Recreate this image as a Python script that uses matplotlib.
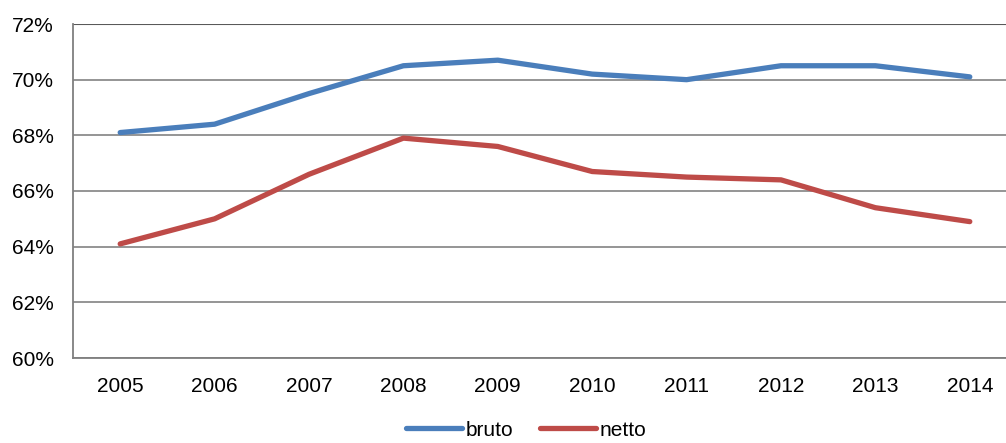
import matplotlib
matplotlib.use("Agg")
import matplotlib.pyplot as plt
from matplotlib.ticker import FuncFormatter

plt.rcParams['font.family'] = ['Liberation Sans', 'DejaVu Sans']

years = ['2005', '2006', '2007', '2008', '2009', '2010', '2011', '2012', '2013', '2014']
bruto = [68.1, 68.4, 69.5, 70.5, 70.7, 70.2, 70.0, 70.5, 70.5, 70.1]
netto = [64.1, 65.0, 66.6, 67.9, 67.6, 66.7, 66.5, 66.4, 65.4, 64.9]
yticks = [60, 62, 64, 66, 68, 70, 72]

fig = plt.figure(figsize=(10.06, 4.43), dpi=100)
ax = fig.add_axes([73/1006, 85/443, (1017-73)/1006, 334/443])
x = list(range(len(years)))
ax.plot(x, bruto, color='#4A7EBB', lw=3.8, solid_capstyle='round', label='bruto')
ax.plot(x, netto, color='#BE4B48', lw=3.8, solid_capstyle='round', label='netto')

ax.set_xlim(-0.5, len(years) - 0.5)
ax.set_ylim(60, 72)
ax.set_yticks(yticks)
ax.yaxis.set_major_formatter(FuncFormatter(lambda v, p: f"{v:.0f}%"))
ax.set_xticks(x)
ax.set_xticklabels(years)
ax.tick_params(axis='both', length=0, labelsize=15)
ax.tick_params(axis='y', pad=14)
ax.tick_params(axis='x', pad=14)
ax.grid(axis='y', color='#8C8C8C', lw=1.3)
ax.set_axisbelow(True)
for s in ['top', 'right']:
    ax.spines[s].set_visible(False)
ax.spines['left'].set_color('#7F7F7F')
ax.spines['bottom'].set_color('#7F7F7F')
ax.spines['left'].set_linewidth(1.3)
ax.spines['bottom'].set_linewidth(1.3)
ax.axhline(72, color='#595959', lw=1.5)

fig.legend(loc='lower center', bbox_to_anchor=(0.523, -0.035), ncol=2, frameon=False,
           fontsize=15, handlelength=2.7, handletextpad=0.15, columnspacing=1.3)

fig.savefig('out.png', dpi=100)
